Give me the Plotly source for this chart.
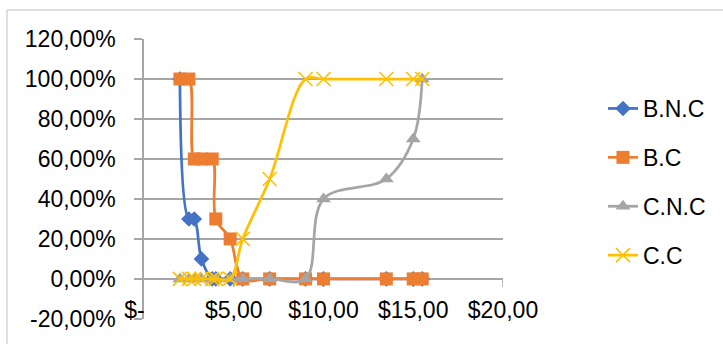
import plotly.graph_objects as go

# ---- data ----
price = [2.0, 2.5, 2.8, 3.2, 3.8, 4.0, 4.8, 5.5, 7.0, 9.0, 10.0, 13.5, 15.0, 15.5]
bnc = [100, 30, 30, 10, 0, 0, 0, 0, 0, 0, 0, 0, 0, 0]
bc = [100, 100, 60, 60, 60, 30, 20, 0, 0, 0, 0, 0, 0, 0]
cnc = [0, 0, 0, 0, 0, 0, 0, 0, 0, 0, 40, 50, 70, 100]
cc = [0, 0, 0, 0, 0, 0, 0, 20, 50, 100, 100, 100, 100, 100]

series_names = ["B.N.C", "B.C", "C.N.C", "C.C"]
x_tickvals = [0, 5, 10, 15, 20]
x_ticktext = ["$-\u00a0\u00a0\u00a0", "$5,00", "$10,00", "$15,00", "$20,00"]
y_tickvals = [-20, 0, 20, 40, 60, 80, 100, 120]
y_ticktext = ["-20,00%", "0,00%", "20,00%", "40,00%", "60,00%", "80,00%", "100,00%", "120,00%"]

colors = ["#4472C4", "#ED7D31", "#A5A5A5", "#FFC000"]
symbols = ["diamond", "square", "triangle-up", "x-thin"]
sizes = [12, 13, 13, 14]

FONT = "Liberation Sans"
GRID = "#a6a6a6"

fig = go.Figure()
for i, (name, ys) in enumerate(zip(series_names, [bnc, bc, cnc, cc])):
    marker = dict(symbol=symbols[i], size=sizes[i], color=colors[i])
    if symbols[i] == "x-thin":
        marker["line"] = dict(width=1.6, color=colors[i])
    else:
        marker["line"] = dict(width=0)
    fig.add_trace(go.Scatter(
        x=price, y=ys, name=name, mode="lines+markers",
        line=dict(color=colors[i], width=2.75, shape="spline", smoothing=1.0),
        marker=marker, legendgroup=name,
    ))

W, H = 723, 344
L, R, T, B = 144, 220, 39, 25
pw, ph = W - L - R, H - T - B

def px_x(p):
    return (p - L) / pw

def px_y(p):
    return (H - B - p) / ph

shapes = [
    dict(type="rect", xref="paper", yref="paper",
         x0=px_x(7), x1=px_x(740), y0=px_y(360), y1=px_y(10),
         line=dict(color="#bfbfbf", width=1), layer="below"),
]
for xv in x_tickvals[1:]:
    shapes.append(dict(type="line", xref="x", yref="y", ysizemode="pixel", yanchor=0,
                       x0=xv, x1=xv, y0=0, y1=-8,
                       line=dict(color=GRID, width=1.5), layer="below"))

fig.update_layout(
    width=W, height=H,
    margin=dict(l=L, r=R, t=T, b=B, pad=0),
    paper_bgcolor="white", plot_bgcolor="white",
    font=dict(family=FONT, size=23, color="black"),
    showlegend=True,
    legend=dict(x=px_x(603), y=px_y(87), xanchor="left", yanchor="top",
                font=dict(family=FONT, size=23, color="black"),
                tracegroupgap=16, bgcolor="rgba(0,0,0,0)"),
    shapes=shapes,
    xaxis=dict(range=[0, 20], tickvals=x_tickvals, ticktext=x_ticktext,
               showgrid=False, zeroline=False, showline=False, ticks="",
               ticklabelposition="outside", ticklabelstandoff=-25,
               tickfont=dict(family=FONT, size=23)),
    yaxis=dict(range=[-20.06, 120.02], tickvals=y_tickvals, ticktext=y_ticktext,
               showgrid=True, gridcolor=GRID, gridwidth=1.5, zeroline=False,
               showline=True, linecolor=GRID, linewidth=1.5,
               ticks="outside", ticklen=8, tickcolor=GRID, tickwidth=1.5,
               ticklabelstandoff=14, tickfont=dict(family=FONT, size=23)),
)

fig.write_html("out.html")
